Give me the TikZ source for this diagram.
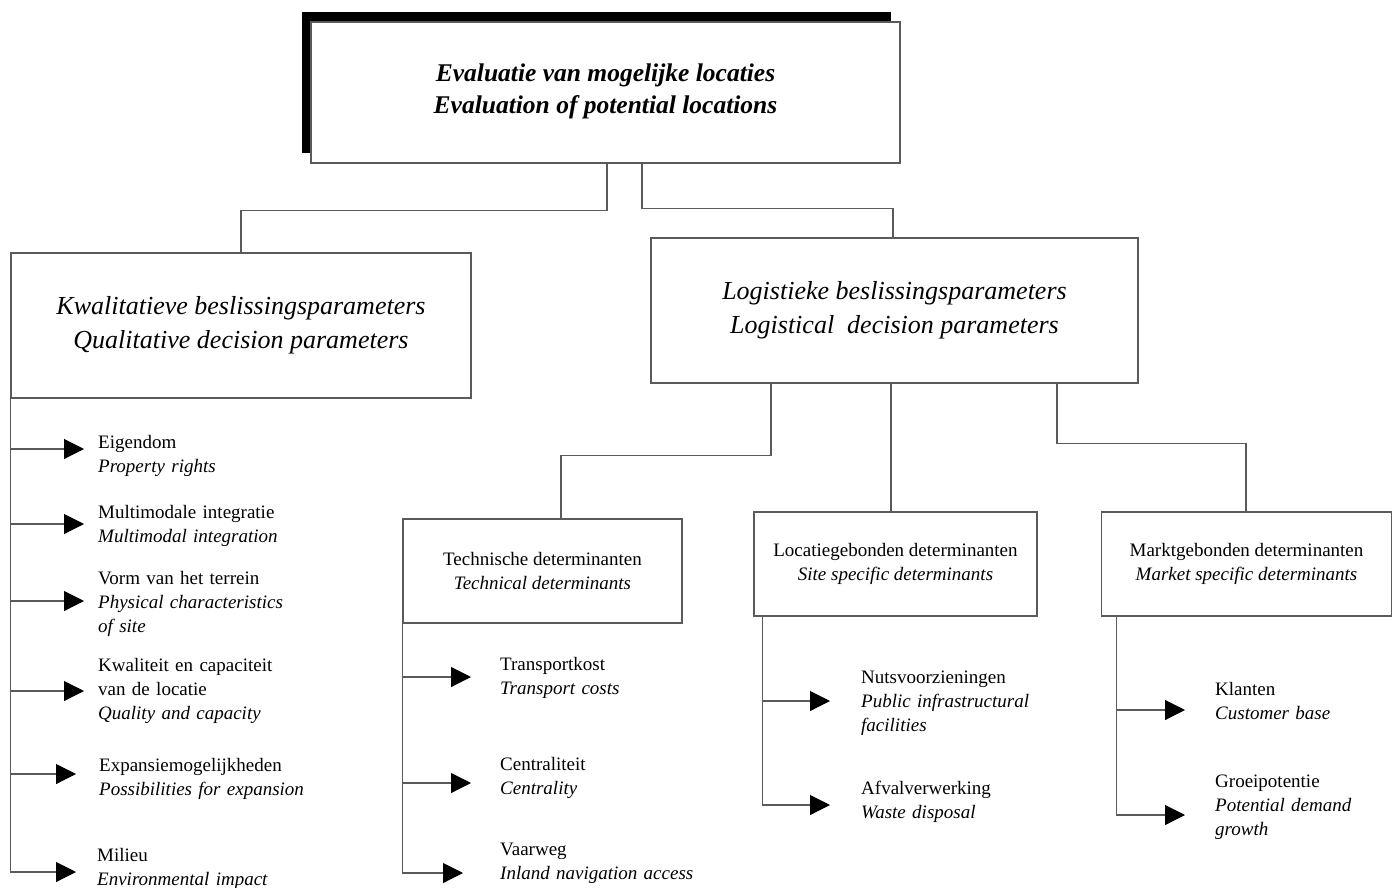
\documentclass[tikz,border=0pt]{standalone}
\usepackage{fontspec}
\setmainfont{Liberation Serif}
\usetikzlibrary{arrows.meta}
\definecolor{ln}{HTML}{5A5A5A}
\begin{document}
\begin{tikzpicture}[x=1pt,y=-1pt,
  box/.style={draw=ln, line width=1.1pt, fill=white, inner sep=0pt, align=center},
  big/.style={font=\fontsize{26}{34}\selectfont\itshape},
  mid/.style={font=\fontsize{19}{24}\selectfont},
  leaf/.style={anchor=base west, inner sep=0pt, text width=225pt, align=left, font=\fontsize{19}{24}\selectfont},
  con/.style={draw=ln, line width=1.1pt},
  arr/.style={con, -{Triangle[length=20pt,width=20pt,color=black]}}]
\useasboundingbox[fill=white] (0,0) rectangle (1393,887);
% shadow of the top box
\fill[black] (302,12) rectangle (891,153);
\node[box, minimum width=589pt, minimum height=141pt,
  font=\fontsize{25.5}{32}\selectfont\bfseries\itshape] (top) at (605.5,92.5)
  {Evaluatie van mogelijke locaties\\Evaluation of potential locations\\[-25pt]};
\node[box, big, minimum width=460pt, minimum height=145pt] (qual) at (241,325.5)
  {Kwalitatieve beslissingsparameters\\Qualitative decision parameters};
\node[box, big, minimum width=487pt, minimum height=145pt] (log) at (894.5,310.5)
  {Logistieke beslissingsparameters\\Logistical\ \ decision parameters};
\node[box, mid, minimum width=279pt, minimum height=104pt] (tech) at (542.5,571)
  {Technische determinanten\\\textit{Technical determinants}};
\node[box, mid, minimum width=283pt, minimum height=104pt] (site) at (895.5,564)
  {Locatiegebonden determinanten\\\textit{Site specific determinants}};
\node[box, mid, minimum width=290pt, minimum height=104pt] (mkt) at (1246.5,564)
  {Marktgebonden determinanten\\\textit{Market specific determinants}};
% tree connectors
\draw[con] ([xshift=1.5pt]top.south) -- ++(0,47) -| (qual.north);
\draw[con] ([xshift=36.5pt]top.south) -- ++(0,45) -| ([xshift=-1.5pt]log.north);
\draw[con] ([xshift=-123.5pt]log.south) -- ++(0,72) -| ([xshift=18.5pt]tech.north);
\draw[con] ([xshift=-3.5pt]log.south) -- ([xshift=-4.5pt]site.north);
\draw[con] ([xshift=162.5pt]log.south) -- ++(0,60) -| ([xshift=-0.5pt]mkt.north);
% arrow tips
\coordinate (a1) at (84,449);
\coordinate (a2) at (84,524);
\coordinate (a3) at (84,601);
\coordinate (a4) at (84,691);
\coordinate (a5) at (76,774);
\coordinate (a6) at (76,872);
\coordinate (b1) at (471,677);
\coordinate (b2) at (471,783);
\coordinate (b3) at (463,873);
\coordinate (c1) at (830,701);
\coordinate (c2) at (830,805);
\coordinate (d1) at (1185,710);
\coordinate (d2) at (1185,815);
% arrows
\draw[arr] (qual.south west |- a1) -- (a1);
\draw[arr] (qual.south west |- a2) -- (a2);
\draw[arr] (qual.south west |- a3) -- (a3);
\draw[arr] (qual.south west |- a4) -- (a4);
\draw[arr] (qual.south west |- a5) -- (a5);
\draw[arr] (qual.south west) |- (a6);
\draw[arr] (tech.south west |- b1) -- (b1);
\draw[arr] (tech.south west |- b2) -- (b2);
\draw[arr] (tech.south west) |- (b3);
\draw[arr] ([xshift=9pt]site.south west |- c1) -- (c1);
\draw[arr] ([xshift=9pt]site.south west) |- (c2);
\draw[arr] ([xshift=15.5pt]mkt.south west |- d1) -- (d1);
\draw[arr] ([xshift=15.5pt]mkt.south west) |- (d2);
% leaf texts
\node[leaf] (tq1) at (98,448) {Eigendom\\\textit{Property rights}};
\node[leaf] (tq2) at (98,518) {Multimodale integratie\\\textit{Multimodal integration}};
\node[leaf] (tq3) at (98,584) {Vorm van het terrein\\\textit{Physical characteristics}\\\textit{of site}};
\node[leaf] (tq4) at (98,671) {Kwaliteit en capaciteit\\van de locatie\\\textit{Quality and capacity}};
\node[leaf] (tq5) at (99,771) {Expansiemogelijkheden\\\textit{Possibilities for expansion}};
\node[leaf] (tq6) at (97,861) {Milieu\\\textit{Environmental impact}};
\node[leaf] (tt1) at (500,670) {Transportkost\\\textit{Transport costs}};
\node[leaf] (tt2) at (500,770) {Centraliteit\\\textit{Centrality}};
\node[leaf] (tt3) at (500,855) {Vaarweg\\\textit{Inland navigation access}};
\node[leaf] (ts1) at (861,683) {Nutsvoorzieningen\\\textit{Public infrastructural}\\\textit{facilities}};
\node[leaf] (ts2) at (861,794) {Afvalverwerking\\\textit{Waste disposal}};
\node[leaf, text width=170pt] (tm1) at (1215,695) {Klanten\\\textit{Customer base}};
\node[leaf, text width=170pt] (tm2) at (1215,787) {Groeipotentie\\\textit{Potential demand}\\\textit{growth}};
\end{tikzpicture}
\end{document}
